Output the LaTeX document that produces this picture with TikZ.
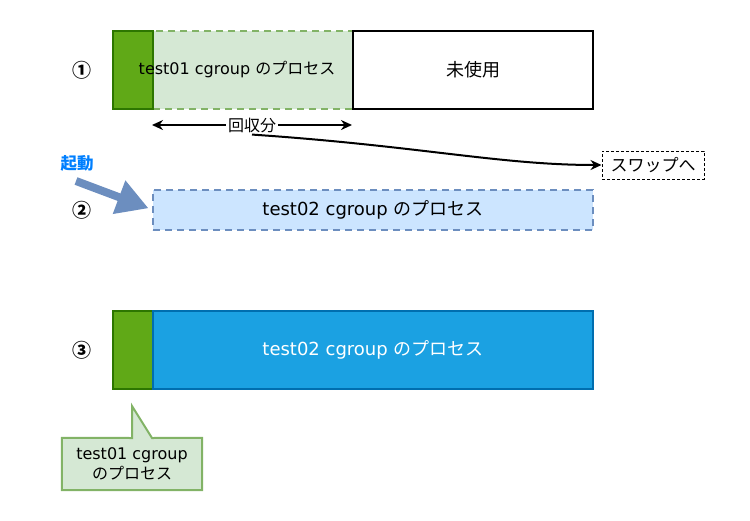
\documentclass[tikz,border=0pt]{standalone}
\usepackage{fontspec}
\setmainfont{DejaVu Sans}
\newfontfamily\jpfont{Noto Sans CJK JP}
\usetikzlibrary{positioning,arrows.meta,backgrounds}
\definecolor{keepfill}{HTML}{60A917}
\definecolor{keepline}{HTML}{2D7600}
\definecolor{freedfill}{HTML}{D5E8D4}
\definecolor{freedline}{HTML}{82B366}
\definecolor{newfill}{HTML}{CCE5FF}
\definecolor{newline}{HTML}{6C8EBF}
\definecolor{runfill}{HTML}{1BA1E2}
\definecolor{runline}{HTML}{006EAF}
\definecolor{startblue}{HTML}{007FFF}
\tikzset{
  block/.style = {
      rectangle,
      inner sep=0pt,
      anchor=north west,
      line width=2pt,
      font=\fontsize{18}{21}\selectfont
  },
  keep/.style = {
      block,
      draw=keepline,
      fill=keepfill
  },
  freed/.style = {
      block,
      draw=freedline,
      fill=freedfill,
      dash pattern=on 7pt off 5pt
  },
  unused/.style = {
      block,
      draw=black,
      fill=white
  },
  waiting/.style = {
      block,
      draw=newline,
      fill=newfill,
      dash pattern=on 7pt off 5pt
  },
  running/.style = {
      block,
      draw=runline,
      fill=runfill,
      text=white
  },
  step label/.style = {
      font=\jpfont\bfseries\fontsize{19}{22}\selectfont
  },
  note/.style = {
      font=\jpfont\fontsize{16}{18}\selectfont,
      inner sep=2pt
  },
  link/.style = {
      -{Stealth[length=11pt,width=10pt]},
      line width=2pt
  }
}

\begin{document}
\begin{tikzpicture}[x=1pt,y=-1pt]
    \useasboundingbox (0,0) rectangle (750,520);
    % row 1
    \node[step label] (s1) at (82,70) {①};
    \node[freed, minimum width=200pt, minimum height=78pt] (used1) at (152,30) {};
    \node[keep, minimum width=40pt, minimum height=78pt] (keep1) at (112,30) {};
    \node[font=\fontsize{16}{18}\selectfont] (lbl1) at (237,70) {test01 cgroup {\jpfont のプロセス}};
    \node[unused, minimum width=240pt, minimum height=78pt] (free1) at (352,30) {\jpfont 未使用};
    % reclaimed part
    \node[note, fill=white] (rc) at (252,125) {回収分};
    \coordinate (rl) at (152,125);
    \coordinate (rr) at (352,125);
    \draw[link] (rc) -- (rl);
    \draw[link] (rc) -- (rr);
    \node[note, font=\jpfont\fontsize{17}{19}\selectfont, draw, dash pattern=on 3pt off 2pt,
          line width=1pt, inner sep=2pt, minimum width=102pt, minimum height=28pt] (swap) at (653,165) {スワップへ};
    \draw[link] (rc.south) .. controls (420,146) and (500,165) .. (swap.west);
    % row 2
    \node[text=startblue, font=\jpfont\bfseries\fontsize{16.5}{18}\selectfont] (go) at (77,163) {起動};
    \node[step label] (s2) at (82,210) {②};
    \node[waiting, minimum width=440pt, minimum height=40pt] (proc2) at (152,189) {test02 cgroup {\jpfont のプロセス}};
    \begin{scope}[shift={(76,181)}, rotate=-20.6]
      \fill[newline] (0,-4) -- (46,-4) -- (46,-18) -- (77,0) -- (46,18) -- (46,4) -- (0,4) -- cycle;
    \end{scope}
    % row 3
    \node[step label] (s3) at (82,350) {③};
    \node[keep, minimum width=40pt, minimum height=78pt] (keep3) at (112,310) {};
    \node[running, minimum width=440pt, minimum height=78pt] (proc3) at (152,310) {test02 cgroup {\jpfont のプロセス}};
    % callout
    \node[font=\fontsize{16}{20}\selectfont, align=center, minimum width=140pt, minimum height=52pt,
          inner sep=0pt] (memo) at (132,464) {test01 cgroup\\{\jpfont のプロセス}};
    \begin{scope}[on background layer]
      \draw[freedline, fill=freedfill, line width=2pt]
        (memo.north west) -- (132,438) -- (132,406) -- (152,438)
        -- (memo.north east) -- (memo.south east) -- (memo.south west) -- cycle;
    \end{scope}
\end{tikzpicture}
\end{document}
